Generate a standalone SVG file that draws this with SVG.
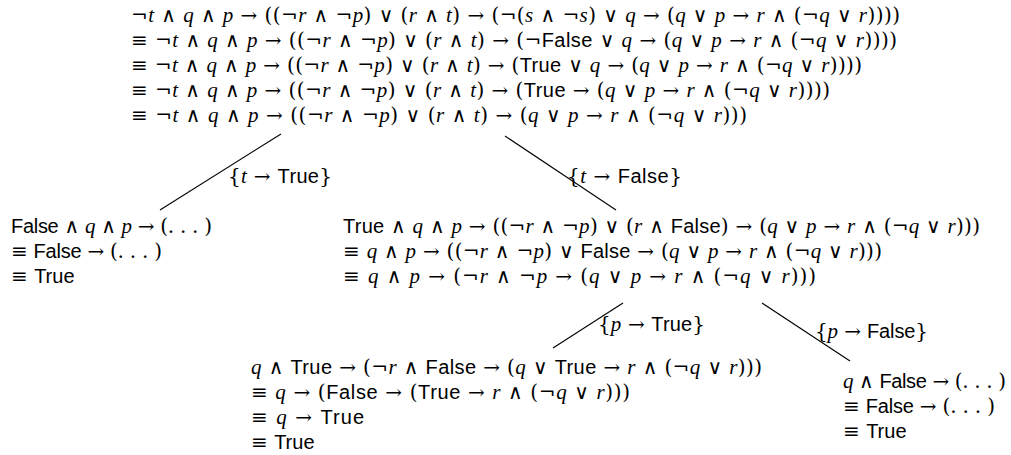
<svg xmlns="http://www.w3.org/2000/svg" width="1011" height="455" viewBox="0 0 1011 455">
<style>
text{font-family:"DejaVu Serif","Liberation Serif",serif;font-size:20px;fill:#000}
.i{font-family:"Liberation Serif","DejaVu Serif",serif;font-style:italic;font-size:21px}
.f{font-family:"Liberation Sans","DejaVu Sans",sans-serif;font-size:20px}
line{stroke:#000;stroke-width:1.1}
</style>
<rect width="1011" height="455" fill="#fff"/>
<g id="connectors">
<line x1="281" y1="134" x2="160" y2="210"/>
<line x1="505" y1="136" x2="616" y2="210"/>
<line x1="623" y1="303" x2="553" y2="348"/>
<line x1="762" y1="303" x2="850" y2="361"/>
<text x="228" y="183" textLength="104" lengthAdjust="spacing" xml:space="preserve">{<tspan class="i">t</tspan> → <tspan class="f">True</tspan>}</text>
<text x="567" y="183" textLength="115" lengthAdjust="spacing" xml:space="preserve">{<tspan class="i">t</tspan> → <tspan class="f">False</tspan>}</text>
<text x="598" y="331" textLength="107" lengthAdjust="spacing" xml:space="preserve">{<tspan class="i">p</tspan> → <tspan class="f">True</tspan>}</text>
<text x="815" y="338" textLength="113" lengthAdjust="spacing" xml:space="preserve">{<tspan class="i">p</tspan> → <tspan class="f">False</tspan>}</text>
</g>
<g id="n-root" xml:space="preserve">
<text x="131" y="22" textLength="769" lengthAdjust="spacing">¬<tspan class="i">t</tspan> ∧ <tspan class="i">q</tspan> ∧ <tspan class="i">p</tspan> → ((¬<tspan class="i">r</tspan> ∧ ¬<tspan class="i">p</tspan>) ∨ (<tspan class="i">r</tspan> ∧ <tspan class="i">t</tspan>) → (¬(<tspan class="i">s</tspan> ∧ ¬<tspan class="i">s</tspan>) ∨ <tspan class="i">q</tspan> → (<tspan class="i">q</tspan> ∨ <tspan class="i">p</tspan> → <tspan class="i">r</tspan> ∧ (¬<tspan class="i">q</tspan> ∨ <tspan class="i">r</tspan>))))</text>
<text x="131" y="47" textLength="766" lengthAdjust="spacing">≡ ¬<tspan class="i">t</tspan> ∧ <tspan class="i">q</tspan> ∧ <tspan class="i">p</tspan> → ((¬<tspan class="i">r</tspan> ∧ ¬<tspan class="i">p</tspan>) ∨ (<tspan class="i">r</tspan> ∧ <tspan class="i">t</tspan>) → (¬<tspan class="f">False</tspan> ∨ <tspan class="i">q</tspan> → (<tspan class="i">q</tspan> ∨ <tspan class="i">p</tspan> → <tspan class="i">r</tspan> ∧ (¬<tspan class="i">q</tspan> ∨ <tspan class="i">r</tspan>))))</text>
<text x="131" y="72" textLength="731" lengthAdjust="spacing">≡ ¬<tspan class="i">t</tspan> ∧ <tspan class="i">q</tspan> ∧ <tspan class="i">p</tspan> → ((¬<tspan class="i">r</tspan> ∧ ¬<tspan class="i">p</tspan>) ∨ (<tspan class="i">r</tspan> ∧ <tspan class="i">t</tspan>) → (<tspan class="f">True</tspan> ∨ <tspan class="i">q</tspan> → (<tspan class="i">q</tspan> ∨ <tspan class="i">p</tspan> → <tspan class="i">r</tspan> ∧ (¬<tspan class="i">q</tspan> ∨ <tspan class="i">r</tspan>))))</text>
<text x="131" y="97" textLength="699" lengthAdjust="spacing">≡ ¬<tspan class="i">t</tspan> ∧ <tspan class="i">q</tspan> ∧ <tspan class="i">p</tspan> → ((¬<tspan class="i">r</tspan> ∧ ¬<tspan class="i">p</tspan>) ∨ (<tspan class="i">r</tspan> ∧ <tspan class="i">t</tspan>) → (<tspan class="f">True</tspan> → (<tspan class="i">q</tspan> ∨ <tspan class="i">p</tspan> → <tspan class="i">r</tspan> ∧ (¬<tspan class="i">q</tspan> ∨ <tspan class="i">r</tspan>))))</text>
<text x="131" y="122" textLength="616" lengthAdjust="spacing">≡ ¬<tspan class="i">t</tspan> ∧ <tspan class="i">q</tspan> ∧ <tspan class="i">p</tspan> → ((¬<tspan class="i">r</tspan> ∧ ¬<tspan class="i">p</tspan>) ∨ (<tspan class="i">r</tspan> ∧ <tspan class="i">t</tspan>) → (<tspan class="i">q</tspan> ∨ <tspan class="i">p</tspan> → <tspan class="i">r</tspan> ∧ (¬<tspan class="i">q</tspan> ∨ <tspan class="i">r</tspan>)))</text>
</g>
<g id="n-t-true" xml:space="preserve">
<text x="11" y="233" textLength="201" lengthAdjust="spacing"><tspan class="f">False</tspan> ∧ <tspan class="i">q</tspan> ∧ <tspan class="i">p</tspan> → (. . . )</text>
<text x="11" y="258" textLength="151" lengthAdjust="spacing">≡ <tspan class="f">False</tspan> → (. . . )</text>
<text x="11" y="283">≡ <tspan class="f">True</tspan></text>
</g>
<g id="n-t-false" xml:space="preserve">
<text x="343" y="233" textLength="637" lengthAdjust="spacing"><tspan class="f">True</tspan> ∧ <tspan class="i">q</tspan> ∧ <tspan class="i">p</tspan> → ((¬<tspan class="i">r</tspan> ∧ ¬<tspan class="i">p</tspan>) ∨ (<tspan class="i">r</tspan> ∧ <tspan class="f">False</tspan>) → (<tspan class="i">q</tspan> ∨ <tspan class="i">p</tspan> → <tspan class="i">r</tspan> ∧ (¬<tspan class="i">q</tspan> ∨ <tspan class="i">r</tspan>)))</text>
<text x="343" y="258" textLength="539" lengthAdjust="spacing">≡ <tspan class="i">q</tspan> ∧ <tspan class="i">p</tspan> → ((¬<tspan class="i">r</tspan> ∧ ¬<tspan class="i">p</tspan>) ∨ <tspan class="f">False</tspan> → (<tspan class="i">q</tspan> ∨ <tspan class="i">p</tspan> → <tspan class="i">r</tspan> ∧ (¬<tspan class="i">q</tspan> ∨ <tspan class="i">r</tspan>)))</text>
<text x="343" y="283" textLength="473" lengthAdjust="spacing">≡ <tspan class="i">q</tspan> ∧ <tspan class="i">p</tspan> → (¬<tspan class="i">r</tspan> ∧ ¬<tspan class="i">p</tspan> → (<tspan class="i">q</tspan> ∨ <tspan class="i">p</tspan> → <tspan class="i">r</tspan> ∧ (¬<tspan class="i">q</tspan> ∨ <tspan class="i">r</tspan>)))</text>
</g>
<g id="n-p-true" xml:space="preserve">
<text x="251" y="374" textLength="511" lengthAdjust="spacing"><tspan class="i">q</tspan> ∧ <tspan class="f">True</tspan> → (¬<tspan class="i">r</tspan> ∧ <tspan class="f">False</tspan> → (<tspan class="i">q</tspan> ∨ <tspan class="f">True</tspan> → <tspan class="i">r</tspan> ∧ (¬<tspan class="i">q</tspan> ∨ <tspan class="i">r</tspan>)))</text>
<text x="251" y="399" textLength="379" lengthAdjust="spacing">≡ <tspan class="i">q</tspan> → (<tspan class="f">False</tspan> → (<tspan class="f">True</tspan> → <tspan class="i">r</tspan> ∧ (¬<tspan class="i">q</tspan> ∨ <tspan class="i">r</tspan>)))</text>
<text x="251" y="424" textLength="113" lengthAdjust="spacing">≡ <tspan class="i">q</tspan> → <tspan class="f">True</tspan></text>
<text x="251" y="449">≡ <tspan class="f">True</tspan></text>
</g>
<g id="n-p-false" xml:space="preserve">
<text x="843" y="388" textLength="163" lengthAdjust="spacing"><tspan class="i">q</tspan> ∧ <tspan class="f">False</tspan> → (. . . )</text>
<text x="843" y="413" textLength="152" lengthAdjust="spacing">≡ <tspan class="f">False</tspan> → (. . . )</text>
<text x="843" y="438">≡ <tspan class="f">True</tspan></text>
</g>
</svg>
